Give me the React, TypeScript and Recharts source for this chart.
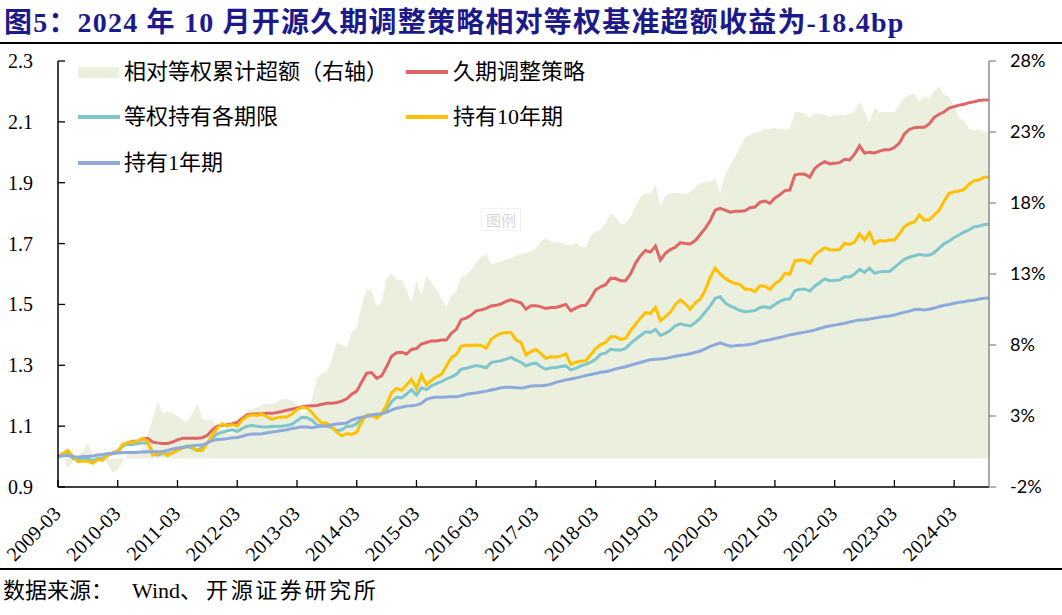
import React from 'react';
import { ComposedChart, Area, Line, XAxis, YAxis } from 'recharts';

// Monthly categories 2009-03 .. 2024-10
const FIRST_YEAR = 2009;
const FIRST_MONTH = 3;
const MONTH_COUNT = 188;
const categories: string[] = [];
for (let k = 0; k < MONTH_COUNT; k++) {
  const m = FIRST_MONTH - 1 + k;
  const yy = FIRST_YEAR + Math.floor(m / 12);
  const mm = (m % 12) + 1;
  categories.push(`${yy}-${mm < 10 ? '0' + mm : mm}`);
}

const leftTicks = [0.9, 1.1, 1.3, 1.5, 1.7, 1.9, 2.1, 2.3];
const rightTicks = [-2, 3, 8, 13, 18, 23, 28];

// 相对等权累计超额（右轴）, %
const excess = [
  0.0, 0.3, -0.7, -0.2, 0.2, 0.5, 1.1, 0.3, 0.4, 0.2, -0.4, -1.0,
  -0.8, -0.2, 0.3, 0.5, 0.4, 0.8, 1.6, 2.8, 4.0, 3.2, 3.3, 3.2,
  3.0, 2.7, 2.6, 3.2, 3.8, 2.8, 2.7, 2.7, 2.2, 2.0, 1.8, 1.7,
  2.8, 3.0, 3.4, 3.5, 3.6, 3.8, 3.9, 3.8, 4.0, 4.2, 4.2, 4.1,
  3.8, 3.0, 3.4, 4.2, 5.6, 6.0, 6.2, 7.0, 8.2, 8.0, 7.8, 8.9,
  9.2, 10.8, 11.9, 11.8, 10.7, 11.0, 12.7, 13.0, 12.6, 12.6, 11.9, 11.0,
  12.5, 11.5, 12.9, 12.4, 11.9, 11.3, 10.7, 11.5, 11.8, 12.8, 12.9, 13.3,
  13.8, 14.2, 14.4, 13.7, 13.8, 13.9, 14.0, 14.1, 14.3, 14.4, 14.5, 14.6,
  14.8, 15.3, 15.5, 15.3, 15.2, 15.2, 15.1, 15.0, 15.2, 14.9, 14.9, 15.7,
  16.0, 16.1, 16.6, 17.3, 17.0, 16.5, 16.6, 17.0, 17.8, 18.4, 18.7, 18.6,
  19.3, 17.8, 18.5, 18.7, 18.7, 18.7, 18.6, 18.8, 19.1, 19.4, 19.5, 19.5,
  19.7, 18.7, 20.0, 20.6, 21.3, 21.9, 22.6, 22.8, 22.9, 23.0, 23.2, 23.2,
  23.3, 23.2, 23.2, 23.2, 24.4, 24.4, 24.3, 24.0, 24.3, 24.3, 24.2, 24.1,
  24.2, 24.2, 24.2, 24.3, 24.4, 25.1, 24.4, 23.7, 24.7, 24.4, 24.4, 24.4,
  24.4, 24.9, 25.4, 25.6, 25.7, 25.1, 25.5, 25.3, 25.9, 26.2, 25.6, 25.5,
  24.8, 24.0, 23.8, 23.2, 23.1, 23.2, 23.0, 23.0,
];

// 久期调整策略
const strategy = [
  1.000, 1.010, 1.015, 0.995, 0.988, 0.992, 0.990, 0.985, 0.993, 0.993, 1.005, 1.012,
  1.018, 1.035, 1.045, 1.050, 1.050, 1.058, 1.060, 1.048, 1.045, 1.043, 1.043, 1.048,
  1.055, 1.060, 1.060, 1.060, 1.060, 1.062, 1.070, 1.088, 1.100, 1.103, 1.105, 1.108,
  1.112, 1.125, 1.137, 1.140, 1.140, 1.141, 1.142, 1.142, 1.145, 1.148, 1.152, 1.156,
  1.160, 1.163, 1.166, 1.167, 1.168, 1.172, 1.175, 1.175, 1.178, 1.182, 1.190, 1.205,
  1.215, 1.245, 1.274, 1.276, 1.257, 1.265, 1.295, 1.330, 1.341, 1.343, 1.337, 1.352,
  1.355, 1.370, 1.375, 1.380, 1.380, 1.383, 1.383, 1.405, 1.418, 1.450, 1.455, 1.465,
  1.479, 1.482, 1.487, 1.495, 1.497, 1.502, 1.510, 1.515, 1.510, 1.505, 1.484, 1.496,
  1.496, 1.492, 1.487, 1.490, 1.490, 1.495, 1.500, 1.479, 1.488, 1.496, 1.497, 1.520,
  1.548, 1.558, 1.565, 1.586, 1.585, 1.578, 1.578, 1.600, 1.635, 1.660, 1.677, 1.672,
  1.692, 1.646, 1.668, 1.680, 1.688, 1.703, 1.700, 1.699, 1.710, 1.730, 1.750, 1.775,
  1.810, 1.816, 1.810, 1.803, 1.806, 1.806, 1.808, 1.818, 1.820, 1.836, 1.840, 1.832,
  1.850, 1.860, 1.874, 1.876, 1.925, 1.929, 1.928, 1.918, 1.947, 1.960, 1.969, 1.962,
  1.964, 1.966, 1.977, 1.975, 1.994, 2.021, 1.997, 2.000, 1.998, 2.004, 2.008, 2.008,
  2.016, 2.030, 2.060, 2.075, 2.081, 2.082, 2.082, 2.093, 2.115, 2.125, 2.133, 2.145,
  2.150, 2.155, 2.158, 2.163, 2.166, 2.170, 2.172, 2.172,
];

// 等权持有各期限
const equalWeight = [
  1.000, 1.008, 1.008, 0.995, 0.990, 0.992, 0.992, 0.987, 0.993, 0.995, 1.005, 1.010,
  1.015, 1.035, 1.040, 1.040, 1.042, 1.045, 1.045, 1.015, 1.005, 1.010, 1.008, 1.012,
  1.022, 1.030, 1.032, 1.027, 1.020, 1.030, 1.045, 1.060, 1.075, 1.080, 1.085, 1.088,
  1.083, 1.092, 1.100, 1.102, 1.100, 1.098, 1.097, 1.099, 1.100, 1.100, 1.102, 1.106,
  1.118, 1.129, 1.128, 1.120, 1.104, 1.102, 1.100, 1.095, 1.085, 1.088, 1.100, 1.100,
  1.108, 1.125, 1.133, 1.134, 1.133, 1.140, 1.155, 1.180, 1.195, 1.193, 1.205, 1.219,
  1.202, 1.226, 1.220, 1.232, 1.240, 1.246, 1.255, 1.262, 1.270, 1.287, 1.290, 1.295,
  1.299, 1.296, 1.292, 1.309, 1.312, 1.315, 1.320, 1.326, 1.317, 1.310, 1.298, 1.304,
  1.307, 1.295, 1.287, 1.292, 1.293, 1.296, 1.298, 1.285, 1.290, 1.298, 1.303, 1.310,
  1.320, 1.337, 1.340, 1.353, 1.350, 1.350, 1.355, 1.372, 1.385, 1.398, 1.410, 1.408,
  1.418, 1.398, 1.405, 1.415, 1.430, 1.436, 1.432, 1.429, 1.440, 1.455, 1.475, 1.495,
  1.520, 1.525, 1.505, 1.495, 1.488, 1.480, 1.476, 1.478, 1.480, 1.490, 1.492, 1.488,
  1.500, 1.510, 1.517, 1.518, 1.545, 1.550, 1.550, 1.544, 1.560, 1.572, 1.584, 1.578,
  1.579, 1.580, 1.591, 1.590, 1.600, 1.615, 1.605, 1.619, 1.602, 1.607, 1.608, 1.608,
  1.622, 1.635, 1.648, 1.655, 1.660, 1.665, 1.662, 1.662, 1.670, 1.685, 1.700, 1.708,
  1.720, 1.728, 1.738, 1.745, 1.755, 1.758, 1.762, 1.765,
];

// 持有10年期
const hold10y = [
  1.000, 1.010, 1.020, 1.000, 0.983, 0.985, 0.985, 0.978, 0.990, 0.988, 1.005, 1.012,
  1.015, 1.040, 1.045, 1.048, 1.050, 1.060, 1.050, 1.005, 1.010, 1.015, 1.003, 1.012,
  1.020, 1.028, 1.035, 1.030, 1.020, 1.020, 1.045, 1.070, 1.095, 1.108, 1.100, 1.105,
  1.100, 1.120, 1.132, 1.137, 1.135, 1.140, 1.130, 1.122, 1.128, 1.130, 1.130, 1.140,
  1.155, 1.162, 1.160, 1.145, 1.125, 1.110, 1.110, 1.098, 1.080, 1.068, 1.075, 1.073,
  1.080, 1.115, 1.137, 1.137, 1.126, 1.140, 1.170, 1.210, 1.224, 1.218, 1.235, 1.254,
  1.224, 1.268, 1.236, 1.250, 1.262, 1.270, 1.298, 1.325, 1.335, 1.363, 1.365, 1.366,
  1.367, 1.365, 1.356, 1.385, 1.397, 1.405, 1.408, 1.407, 1.383, 1.375, 1.334, 1.345,
  1.352, 1.338, 1.323, 1.328, 1.327, 1.330, 1.337, 1.304, 1.310, 1.313, 1.315, 1.335,
  1.355, 1.368, 1.375, 1.394, 1.394, 1.385, 1.388, 1.414, 1.435, 1.455, 1.473, 1.470,
  1.490, 1.447, 1.460, 1.475, 1.500, 1.515, 1.502, 1.484, 1.505, 1.517, 1.547, 1.589,
  1.619, 1.600, 1.586, 1.575, 1.569, 1.566, 1.550, 1.550, 1.542, 1.561, 1.560, 1.550,
  1.568, 1.578, 1.602, 1.600, 1.643, 1.646, 1.645, 1.635, 1.662, 1.675, 1.686, 1.680,
  1.679, 1.680, 1.701, 1.697, 1.705, 1.732, 1.712, 1.736, 1.699, 1.710, 1.708, 1.712,
  1.712, 1.732, 1.755, 1.766, 1.770, 1.794, 1.777, 1.778, 1.794, 1.810, 1.840, 1.865,
  1.870, 1.873, 1.878, 1.895, 1.907, 1.909, 1.918, 1.918,
];

// 持有1年期
const hold1y = [
  1.000, 1.003, 1.003, 1.000, 0.998, 1.000, 1.000, 1.002, 1.005, 1.007, 1.010, 1.010,
  1.012, 1.013, 1.013, 1.013, 1.014, 1.015, 1.016, 1.016, 1.016, 1.017, 1.020, 1.025,
  1.028, 1.030, 1.033, 1.036, 1.037, 1.038, 1.045, 1.053, 1.056, 1.057, 1.059, 1.062,
  1.063, 1.067, 1.072, 1.074, 1.074, 1.075, 1.078, 1.081, 1.083, 1.086, 1.088, 1.092,
  1.095, 1.098, 1.097, 1.095, 1.098, 1.100, 1.101, 1.104, 1.107, 1.109, 1.110, 1.120,
  1.126, 1.129, 1.133, 1.137, 1.140, 1.141, 1.145, 1.153, 1.159, 1.162, 1.166, 1.167,
  1.169, 1.175, 1.188, 1.193, 1.195, 1.195, 1.196, 1.197, 1.197, 1.200, 1.205, 1.207,
  1.209, 1.212, 1.215, 1.219, 1.222, 1.226, 1.228, 1.228, 1.226, 1.225, 1.228, 1.232,
  1.233, 1.233, 1.234, 1.238, 1.244, 1.248, 1.252, 1.255, 1.258, 1.262, 1.266, 1.270,
  1.273, 1.277, 1.279, 1.283, 1.288, 1.292, 1.295, 1.300, 1.305, 1.309, 1.314, 1.318,
  1.320, 1.321, 1.322, 1.326, 1.330, 1.332, 1.335, 1.338, 1.343, 1.347, 1.354, 1.362,
  1.368, 1.374, 1.368, 1.363, 1.364, 1.366, 1.367, 1.369, 1.372, 1.378, 1.381, 1.384,
  1.388, 1.391, 1.396, 1.400, 1.403, 1.406, 1.409, 1.412, 1.416, 1.421, 1.426, 1.429,
  1.432, 1.435, 1.438, 1.442, 1.446, 1.449, 1.450, 1.452, 1.455, 1.458, 1.460, 1.462,
  1.465, 1.470, 1.474, 1.478, 1.483, 1.484, 1.482, 1.484, 1.488, 1.493, 1.497, 1.500,
  1.504, 1.507, 1.509, 1.512, 1.514, 1.518, 1.520, 1.521,
];

const data = categories.map((date, i) => ({
  date,
  excess: excess[i],
  strategy: strategy[i],
  equalWeight: equalWeight[i],
  hold10y: hold10y[i],
  hold1y: hold1y[i],
}));

const COLORS = {
  area: '#ebefdd',
  red: '#e06666',
  teal: '#7ec6cc',
  yellow: '#ffc000',
  blue: '#8eaadc',
};

const SERIF = "'Liberation Serif', 'Times New Roman', 'Noto Sans CJK SC', serif";
const CALIBRI_LIKE = "Lato, 'Open Sans', sans-serif";

const XTick = (props: any) => {
  const { x, y, payload } = props;
  const ax = x + 4;
  const ay = y + 28;
  return (
    <g>
      <line x1={x} x2={x} y1={y} y2={y - 7} stroke="#000" strokeWidth={1.3} />
      <text
        x={ax}
        y={ay}
        textAnchor="end"
        transform={`rotate(-45 ${ax} ${ay})`}
        fontFamily={SERIF}
        fontSize={20}
        fill="#000"
      >
        {payload.value}
      </text>
    </g>
  );
};

const LeftTick = (props: any) => {
  const { x, y, payload } = props;
  return (
    <g>
      <line x1={x} x2={x + 7} y1={y} y2={y} stroke="#000" strokeWidth={1.3} />
      <text x={x - 25} y={y} dy="0.35em" textAnchor="end" fontFamily={SERIF} fontSize={20} fill="#000">
        {payload.value.toFixed(1)}
      </text>
    </g>
  );
};

const RightTick = (props: any) => {
  const { x, y, payload } = props;
  return (
    <g>
      <line x1={x} x2={x + 7} y1={y} y2={y} stroke="#8c8c8c" strokeWidth={1.3} />
      <text x={x + 21} y={y} dy="0.36em" textAnchor="start" fontFamily={CALIBRI_LIKE} fontSize={18} fill="#000">
        {`${payload.value}%`}
      </text>
    </g>
  );
};

const legendText: React.CSSProperties = {
  position: 'absolute',
  fontFamily: SERIF,
  fontSize: 22,
  lineHeight: '24px',
  color: '#000',
  whiteSpace: 'nowrap',
  ['textSpacingTrim' as any]: 'space-all',
};

const LegendLine = ({ x, y, color }: { x: number; y: number; color: string }) => (
  <div style={{ position: 'absolute', left: x, top: y - 2, width: 42, height: 4, background: color }} />
);

export default function App() {
  return (
    <div style={{ position: 'absolute', left: 0, top: 0, width: 1062, height: 615, background: '#fff', overflow: 'hidden' }}>
      <div
        style={{
          position: 'absolute',
          left: 4,
          top: 8,
          fontFamily: SERIF,
          fontWeight: 700,
          fontSize: 28,
          letterSpacing: 1.2,
          lineHeight: '30px',
          color: '#1c1a8a',
          whiteSpace: 'nowrap',
        }}
      >
        图5：2024 年 10 月开源久期调整策略相对等权基准超额收益为-18.4bp
      </div>
      <div style={{ position: 'absolute', left: 0, top: 42, width: 1062, height: 2, background: '#000' }} />

      <div style={{ position: 'absolute', left: 0, top: 0 }}>
        <ComposedChart
          width={1062}
          height={615}
          data={data}
          margin={{ top: 61, right: 0, bottom: 0, left: 0 }}
        >
          <XAxis
            dataKey="date"
            scale="point"
            interval={11}
            height={128}
            tickSize={0}
            tickMargin={0}
            tickLine={false}
            tick={<XTick />}
            axisLine={{ stroke: '#000', strokeWidth: 1.5 }}
          />
          <YAxis
            yAxisId="left"
            orientation="left"
            width={58}
            domain={[0.9, 2.3]}
            ticks={leftTicks}
            interval={0}
            tickSize={0}
            tickMargin={0}
            tickLine={false}
            tick={<LeftTick />}
            axisLine={{ stroke: '#000', strokeWidth: 1.5 }}
            allowDataOverflow
          />
          <YAxis
            yAxisId="right"
            orientation="right"
            width={73}
            domain={[-2, 28]}
            ticks={rightTicks}
            interval={0}
            tickSize={0}
            tickMargin={0}
            tickLine={false}
            tick={<RightTick />}
            axisLine={{ stroke: '#8c8c8c', strokeWidth: 1.5 }}
            allowDataOverflow
          />
          <Area
            yAxisId="right"
            type="linear"
            dataKey="excess"
            baseValue={0}
            stroke="none"
            fill={COLORS.area}
            fillOpacity={1}
            dot={false}
            activeDot={false}
            isAnimationActive={false}
          />
          <Line yAxisId="left" type="linear" dataKey="strategy" stroke={COLORS.red} strokeWidth={3} dot={false} activeDot={false} isAnimationActive={false} />
          <Line yAxisId="left" type="linear" dataKey="equalWeight" stroke={COLORS.teal} strokeWidth={3} dot={false} activeDot={false} isAnimationActive={false} />
          <Line yAxisId="left" type="linear" dataKey="hold10y" stroke={COLORS.yellow} strokeWidth={3} dot={false} activeDot={false} isAnimationActive={false} />
          <Line yAxisId="left" type="linear" dataKey="hold1y" stroke={COLORS.blue} strokeWidth={3} dot={false} activeDot={false} isAnimationActive={false} />
        </ComposedChart>
      </div>

      {/* legend */}
      <div style={{ position: 'absolute', left: 78, top: 67, width: 41, height: 11, background: COLORS.area }} />
      <div style={{ ...legendText, left: 124, top: 60 }}>相对等权累计超额（右轴）</div>
      <LegendLine x={406} y={72} color={COLORS.red} />
      <div style={{ ...legendText, left: 453, top: 60 }}>久期调整策略</div>
      <LegendLine x={78} y={117} color={COLORS.teal} />
      <div style={{ ...legendText, left: 124, top: 105 }}>等权持有各期限</div>
      <LegendLine x={406} y={117} color={COLORS.yellow} />
      <div style={{ ...legendText, left: 453, top: 105 }}>持有10年期</div>
      <LegendLine x={78} y={163} color={COLORS.blue} />
      <div style={{ ...legendText, left: 124, top: 151 }}>持有1年期</div>

      {/* faint watermark */}
      <div
        style={{
          position: 'absolute',
          left: 481,
          top: 208,
          width: 38,
          height: 21,
          border: '1px solid #f0f0f0',
          color: '#d8d8d8',
          fontFamily: "'Noto Sans CJK SC', sans-serif",
          fontSize: 15,
          lineHeight: '21px',
          textAlign: 'center',
        }}
      >
        图例
      </div>

      <div style={{ position: 'absolute', left: 0, top: 568, width: 1062, height: 2, background: '#000' }} />
      <div
        style={{
          position: 'absolute',
          left: 3,
          top: 578,
          fontFamily: SERIF,
          fontSize: 22,
          lineHeight: '26px',
          color: '#000',
          whiteSpace: 'nowrap',
        }}
      >
        <span>数据来源：</span>
        <span style={{ marginLeft: 19 }}>Wind</span>
        <span>、</span>
        <span style={{ marginLeft: 4, letterSpacing: 2.6 }}>开源证券研究所</span>
      </div>
    </div>
  );
}
